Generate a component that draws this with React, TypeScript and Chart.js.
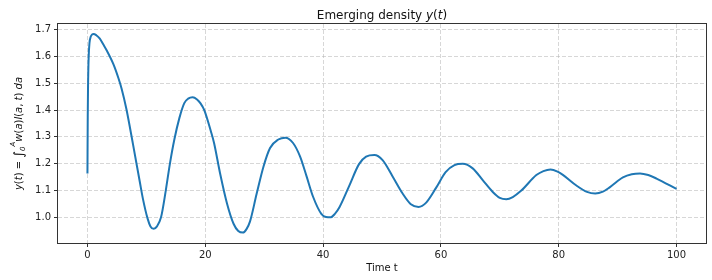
import React, { useEffect, useRef } from "react";
import { Chart, registerables } from "chart.js";

Chart.register(...registerables);

const timeT = [
  0, 0.05, 0.1, 0.2, 0.35, 0.55, 0.8, 1.05, 1.5, 2.1, 2.7, 3.3, 4.4, 5.25, 5.8,
  6.6, 7.75, 8.9, 9.4, 10.2, 10.7, 11.24, 11.8, 12.5, 13.3, 14.0, 14.75, 15.6,
  16.44, 17.1, 17.85, 18.6, 19.2, 19.83, 20.96, 21.5, 22.5, 23.7, 24.8, 25.6,
  26.4, 27.0, 27.6, 28.7, 29.9, 31.0, 32.4, 33.6, 34.9, 36.1, 37.2, 38.3, 39.7,
  40.5, 41.3, 42.0, 42.8, 44.4, 46.1, 47.3, 48.7, 50.1, 51.8, 53.5, 54.9, 56.2,
  57.5, 59.2, 60.8, 62.3, 63.7, 65.4, 67.1, 68.8, 70.0, 71.1, 72.2, 73.6, 76.2,
  77.4, 78.6, 79.8, 80.7, 83.0, 84.8, 86.2, 87.5, 88.7, 90.9, 92.4, 93.8, 95.2,
  96.6, 100,
];

const densityY = [
  1.163, 1.38, 1.49, 1.595, 1.652, 1.674, 1.683, 1.685, 1.68, 1.667, 1.645,
  1.622, 1.572, 1.52, 1.48, 1.405, 1.27, 1.13, 1.07, 0.995, 0.965, 0.956,
  0.965, 1.0, 1.1, 1.2, 1.29, 1.37, 1.426, 1.443, 1.448, 1.44, 1.425, 1.4,
  1.32, 1.276, 1.165, 1.05, 0.975, 0.948, 0.942, 0.955, 0.984, 1.085, 1.19,
  1.258, 1.29, 1.297, 1.277, 1.226, 1.152, 1.076, 1.012, 1.0, 0.999, 1.012,
  1.038, 1.115, 1.198, 1.226, 1.232, 1.213, 1.152, 1.088, 1.048, 1.038, 1.054,
  1.11, 1.168, 1.194, 1.199, 1.182, 1.138, 1.094, 1.072, 1.067, 1.075, 1.098,
  1.157, 1.172, 1.178, 1.17, 1.158, 1.118, 1.094, 1.088, 1.095, 1.112, 1.148,
  1.16, 1.163, 1.157, 1.144, 1.105,
];

const xTickValues = [0, 20, 40, 60, 80, 100];
const yTickValues = [1.0, 1.1, 1.2, 1.3, 1.4, 1.5, 1.6, 1.7];

const FONT = "'DejaVu Sans', sans-serif";

type Piece = { text: string; italic?: boolean; size: number; dy?: number };

function drawPieces(ctx: CanvasRenderingContext2D, pieces: Piece[], cx: number, baseline: number, color: string) {
  let total = 0;
  const widths: number[] = [];
  for (const p of pieces) {
    ctx.font = `${p.italic ? "italic " : ""}${p.size}px ${FONT}`;
    const w = ctx.measureText(p.text).width;
    widths.push(w);
    total += w;
  }
  let x = cx - total / 2;
  ctx.fillStyle = color;
  ctx.textBaseline = "alphabetic";
  ctx.textAlign = "left";
  pieces.forEach((p, i) => {
    ctx.font = `${p.italic ? "italic " : ""}${p.size}px ${FONT}`;
    ctx.fillText(p.text, x, baseline + (p.dy || 0));
    x += widths[i];
  });
}

const titlePieces: Piece[] = [
  { text: "Emerging density ", size: 12 },
  { text: "y", italic: true, size: 12 },
  { text: "(", size: 12 },
  { text: "t", italic: true, size: 12 },
  { text: ")", size: 12 },
];

const yLabelPieces: Piece[] = [
  { text: "y", italic: true, size: 10 },
  { text: "(", size: 10 },
  { text: "t", italic: true, size: 10 },
  { text: ")", size: 10 },
  { text: " = ", size: 10 },
  { text: "∫", size: 13, dy: 1 },
  { text: "0", italic: true, size: 7, dy: 3 },
  { text: "A", italic: true, size: 7, dy: -7 },
  { text: "w", italic: true, size: 10 },
  { text: "(", size: 10 },
  { text: "a", italic: true, size: 10 },
  { text: ")", size: 10 },
  { text: "l", italic: true, size: 10 },
  { text: "(", size: 10 },
  { text: "a", italic: true, size: 10 },
  { text: ", ", size: 10 },
  { text: "t", italic: true, size: 10 },
  { text: ")", size: 10 },
  { text: " ", size: 10 },
  { text: "da", italic: true, size: 10 },
];

const decorPlugin = {
  id: "decor",
  afterDraw(chart: any) {
    const ctx: CanvasRenderingContext2D = chart.ctx;
    const a = chart.chartArea;
    ctx.save();
    ctx.strokeStyle = "#333";
    ctx.lineWidth = 1;
    ctx.strokeRect(Math.round(a.left) - 0.5, Math.round(a.top) - 0.5, Math.round(a.right - a.left) + 1, Math.round(a.bottom - a.top) + 1);
    const cx = (a.left + a.right) / 2;
    drawPieces(ctx, titlePieces, cx, 19, "#111");
    drawPieces(ctx, [{ text: "Time t", size: 10 }], cx, 271, "#111");
    ctx.translate(22, (a.top + a.bottom) / 2);
    ctx.rotate(-Math.PI / 2);
    drawPieces(ctx, yLabelPieces, 0, 0, "#111");
    ctx.restore();
  },
};

export default function App() {
  const ref = useRef<HTMLCanvasElement | null>(null);
  useEffect(() => {
    if (!ref.current) return;
    const gridColor = "rgba(176,176,176,0.5)";
    const chart = new Chart(ref.current, {
      type: "line",
      data: {
        datasets: [
          {
            data: timeT.map((t, i) => ({ x: t, y: densityY[i] })),
            borderColor: "#1f77b4",
            borderWidth: 2,
            pointRadius: 0,
            fill: false,
            cubicInterpolationMode: "monotone",
          },
        ],
      },
      options: {
        animation: false,
        responsive: false,
        maintainAspectRatio: false,
        layout: { padding: { left: 0, right: 6, top: 24, bottom: 0 } },
        plugins: { legend: { display: false }, tooltip: { enabled: false }, title: { display: false } },
        scales: {
          x: {
            type: "linear",
            min: -5,
            max: 105,
            afterBuildTicks: (s: any) => {
              s.ticks = xTickValues.map((v) => ({ value: v }));
            },
            afterFit: (s: any) => {
              s.height = 37;
            },
            ticks: {
              font: { family: FONT, size: 10 },
              color: "#222",
              padding: 2,
              maxRotation: 0,
              autoSkip: false,
              callback: (v: any) => String(v),
            },
            grid: {
              color: gridColor,
              lineWidth: 1,
              tickColor: "#333",
              tickLength: 4,
              tickWidth: 1,
              tickBorderDash: [],
            },
            border: { display: false, dash: [4, 2] },
          },
          y: {
            type: "linear",
            min: 0.903,
            max: 1.722,
            afterBuildTicks: (s: any) => {
              s.ticks = yTickValues.map((v) => ({ value: v }));
            },
            afterFit: (s: any) => {
              s.width = 58;
            },
            ticks: {
              font: { family: FONT, size: 10 },
              color: "#222",
              padding: 3,
              autoSkip: false,
              callback: (v: any) => Number(v).toFixed(1),
            },
            grid: {
              color: gridColor,
              lineWidth: 1,
              tickColor: "#333",
              tickLength: 4,
              tickWidth: 1,
              tickBorderDash: [],
            },
            border: { display: false, dash: [4, 2] },
          },
        },
      } as any,
      plugins: [decorPlugin],
    });
    return () => chart.destroy();
  }, []);
  return (
    <div style={{ position: "fixed", left: 0, top: 0, width: 712, height: 280, background: "#fff" }}>
      <canvas ref={ref} width={712} height={280} style={{ width: 712, height: 280 }} />
    </div>
  );
}
